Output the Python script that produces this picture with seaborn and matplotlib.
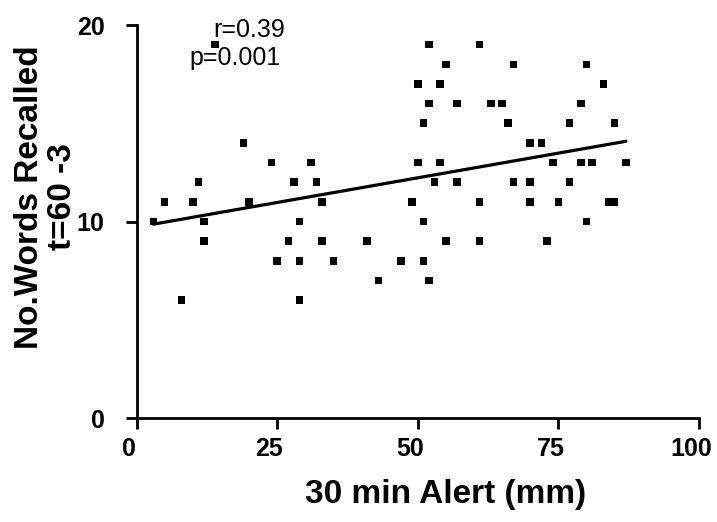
import numpy as np
import pandas as pd
import matplotlib
matplotlib.use("Agg")
import matplotlib.pyplot as plt
import matplotlib.transforms as mtransforms
import seaborn as sns

# Data
alert_mm = [3, 5, 8, 10, 11, 12, 12, 14, 19, 20, 24, 25, 27, 28, 29, 29, 29, 31, 32, 33,
            33, 35, 41, 43, 47, 49, 50, 50, 51, 51, 51, 52, 52, 52, 53, 54, 54, 55, 55, 57,
            57, 61, 61, 61, 63, 65, 66, 67, 67, 70, 70, 70, 72, 73, 74, 75, 77, 77, 79, 79,
            80, 80, 81, 83, 85, 84, 85, 87]
words = [10, 11, 6, 11, 12, 10, 9, 19, 14, 11, 13, 8, 9, 12, 10, 8, 6, 13, 12, 11,
         9, 8, 9, 7, 8, 11, 17, 13, 15, 10, 8, 19, 16, 7, 12, 17, 13, 18, 9, 16,
         12, 19, 11, 9, 16, 16, 15, 18, 12, 14, 12, 11, 14, 9, 13, 11, 15, 12, 16, 13,
         18, 10, 13, 17, 15, 11, 11, 13]
x_ticks = [0, 25, 50, 75, 100]
y_ticks = [0, 10, 20]
stat_r = "r=0.39"
stat_p = "p=0.001"

df = pd.DataFrame({"alert": alert_mm, "words": words})

sns.set_style("ticks")
plt.rcParams['font.family'] = ['Liberation Sans', 'DejaVu Sans']
plt.rcParams['text.color'] = 'black'
plt.rcParams['xtick.color'] = 'black'
plt.rcParams['ytick.color'] = 'black'

fig = plt.figure(figsize=(7.17, 5.22), dpi=100)
ax = fig.add_axes([0.1904, 0.1992, 0.7845, 0.7529])

sns.regplot(data=df, x="alert", y="words", ax=ax, ci=None, marker="s",
            scatter_kws=dict(s=30, color="black", edgecolor="none", alpha=1),
            line_kws=dict(color="black", lw=2.3))

ax.set_xlim(0, 100)
ax.set_ylim(0, 20)
ax.set_xticks(x_ticks)
ax.set_yticks(y_ticks)
ax.set_xticklabels([str(t) for t in x_ticks], fontsize=18, fontweight="bold", color="black")
ax.set_yticklabels([str(t) for t in y_ticks], fontsize=18, fontweight="bold", color="black")
ax.tick_params(axis="x", length=8, width=2, pad=6, color="black", labelcolor="black")
ax.tick_params(axis="y", length=8, width=2, pad=15, color="black", labelcolor="black")
shift = mtransforms.ScaledTranslation(-8 / 100, 0, fig.dpi_scale_trans)
for lbl in ax.get_xticklabels():
    lbl.set_transform(lbl.get_transform() + shift)
for s in ["top", "right"]:
    ax.spines[s].set_visible(False)
for s in ["left", "bottom"]:
    ax.spines[s].set_linewidth(2)
    ax.spines[s].set_color("black")
ax.set_xlabel("")
ax.set_ylabel("")

ax.text(20.0, 19.75, stat_r, ha="center", va="center", fontsize=18, color="black")
ax.text(17.6, 18.3, stat_p, ha="center", va="center", fontsize=18, color="black")

fig.text(446 / 717, 1 - 495 / 522, "30 min Alert (mm)", ha="center", va="center",
         fontsize=24, fontweight="bold", color="black")
fig.text(46 / 717, 1 - 197 / 522, "No.Words Recalled\nt=60 -3", ha="center", va="center",
         rotation=90, fontsize=24, fontweight="bold", multialignment="center",
         linespacing=1.05, color="black")

fig.savefig("out.png", dpi=100)
